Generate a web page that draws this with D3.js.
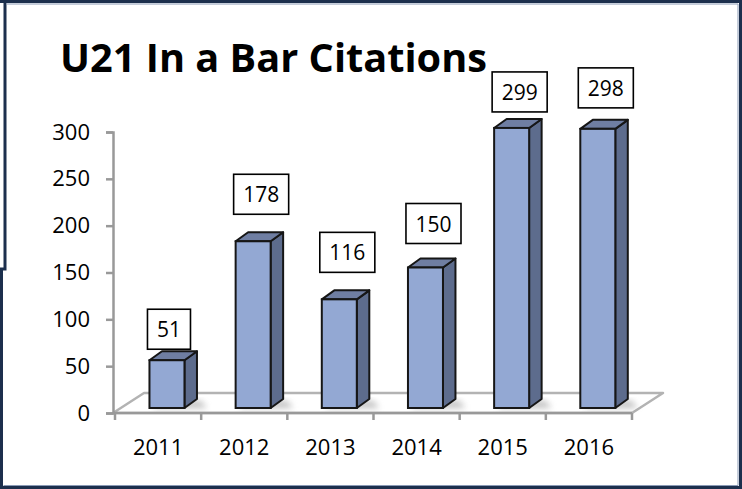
<!DOCTYPE html>
<html>
<head>
<meta charset="utf-8">
<script src="https://cdn.jsdelivr.net/npm/d3@7"></script>
<style>
  html, body { margin: 0; padding: 0; background: #fff; }
  svg { display: block; }
  text { font-family: "Open Sans", "Noto Sans", sans-serif; fill: #000; }
</style>
</head>
<body>
<svg id="chart" width="742" height="489"></svg>
<script>
// ---- data ----
const title = "U21 In a Bar Citations";
const years = ["2011", "2012", "2013", "2014", "2015", "2016"];
const citations = [51, 178, 116, 150, 299, 298];
const yTicks = [0, 50, 100, 150, 200, 250, 300];

// ---- layout constants ----
const labelGap = [11, 27, 27, 24, 16, 21]; // manual label placement above bars
const W = 742, H = 489;
const svg = d3.select("#chart");

const x = d3.scaleBand().domain(years).range([115, 632]).padding(0);
const y = d3.scaleLinear().domain([0, 300]).range([413, 132]);
const depth = { dx: 31, dy: -20 };   // floor depth
const barDepth = { dx: 12.5, dy: -9 };
const barLift = 5;                    // bars sit slightly behind the front floor edge
const faceW = 35;

const defs = svg.append("defs");
const blur = defs.append("filter").attr("id", "shadow").attr("x", "-50%").attr("y", "-50%").attr("width", "200%").attr("height", "200%");
blur.append("feGaussianBlur").attr("stdDeviation", 3);

// ---- frame ----
const frame = svg.append("g");
frame.append("path")
  .attr("d", `M0,1.5 H740.5 V487.5 H1.5 V269 H5 V1.5`)
  .attr("fill", "none").attr("stroke", "#1c2f4d").attr("stroke-width", 3);
frame.append("path")
  .attr("d", `M6,4 H738 V485.5 H3.5`)
  .attr("fill", "none").attr("stroke", "#8a9ab5").attr("stroke-width", 1);

// ---- floor ----
const floorG = svg.append("g");
const x0 = 113, x1 = 632, yb = y(0);
floorG.append("path")
  .attr("d", `M${x0},${yb} L${x0 + depth.dx},${yb + depth.dy} H${x1 + depth.dx} L${x1},${yb} Z`)
  .attr("fill", "#ffffff").attr("stroke", "#b3b3b3").attr("stroke-width", 2.5)
  .attr("stroke-linejoin", "round");

// ---- y axis ----
const yAxis = d3.axisLeft(y).tickValues(yTicks).tickSize(7).tickPadding(16).tickFormat(d3.format("d"));
const yg = svg.append("g").attr("transform", `translate(${x0},0)`).call(yAxis);
yg.select(".domain").attr("stroke", "#999").attr("stroke-width", 2.5);
yg.selectAll(".tick line").attr("stroke", "#999").attr("stroke-width", 2.5);
yg.selectAll(".tick text").attr("font-size", 22).attr("font-family", "Open Sans").attr("fill", "#000");

// ---- x axis ----
const xg = svg.append("g").attr("transform", `translate(0,${yb})`);
xg.append("line").attr("x1", x0).attr("x2", x1).attr("y1", 0).attr("y2", 0)
  .attr("stroke", "#999").attr("stroke-width", 2.5);
const bounds = years.map(d => x(d)).concat([x.range()[1]]);
xg.selectAll("line.xt").data(bounds).join("line").attr("class", "xt")
  .attr("x1", d => d).attr("x2", d => d).attr("y1", 0).attr("y2", 7)
  .attr("stroke", "#999").attr("stroke-width", 2.5);
xg.selectAll("text").data(years).join("text")
  .attr("x", d => x(d) + x.bandwidth() / 2).attr("y", 42)
  .attr("text-anchor", "middle").attr("font-size", 22).text(d => d);

// ---- bars ----
const bars = svg.append("g").selectAll("g").data(years.map((d, i) => ({ year: d, v: citations[i], i })))
  .join("g");

// shadows
bars.append("path")
  .attr("d", d => {
    const l = x(d.year) + x.bandwidth() * 0.4, b = yb - barLift;
    return `M${l + 4},${b} H${l + faceW + barDepth.dx + 10} L${l + faceW + barDepth.dx + 4},${b + barDepth.dy + 2} H${l + 8} Z`;
  })
  .attr("fill", "#8c8c8c").attr("opacity", 0.55).attr("filter", "url(#shadow)");

const face = d => {
  const l = x(d.year) + x.bandwidth() * 0.4;
  return { l, r: l + faceW, t: y(d.v) - barLift, b: yb - barLift };
};
const stroke = "#161616";
bars.append("path") // side
  .attr("d", d => { const f = face(d); return `M${f.r},${f.b} L${f.r + barDepth.dx},${f.b + barDepth.dy} V${f.t + barDepth.dy} L${f.r},${f.t} Z`; })
  .attr("fill", "#5d6c8d").attr("stroke", stroke).attr("stroke-width", 2).attr("stroke-linejoin", "round");
bars.append("path") // top
  .attr("d", d => { const f = face(d); return `M${f.l},${f.t} L${f.l + barDepth.dx},${f.t + barDepth.dy} H${f.r + barDepth.dx} L${f.r},${f.t} Z`; })
  .attr("fill", "#6f7ea2").attr("stroke", stroke).attr("stroke-width", 2).attr("stroke-linejoin", "round");
bars.append("rect") // front
  .attr("x", d => face(d).l).attr("y", d => face(d).t)
  .attr("width", faceW).attr("height", d => face(d).b - face(d).t)
  .attr("fill", "#93a8d3").attr("stroke", stroke).attr("stroke-width", 2);

// ---- data labels ----
const labels = svg.append("g").selectAll("g").data(years.map((d, i) => ({ year: d, v: citations[i], i }))).join("g");
labels.each(function (d) {
  const g = d3.select(this);
  const f = face(d);
  const bh = 40;
  const t = g.append("text").attr("font-size", 21).text(d.v);
  const tw = t.node().getComputedTextLength();
  const bw = tw + 19;
  const left = f.l - 2, bottom = f.t - labelGap[d.i];
  g.insert("rect", "text")
    .attr("x", left).attr("y", bottom - bh).attr("width", bw).attr("height", bh)
    .attr("fill", "#fff").attr("stroke", "#000").attr("stroke-width", 1.6);
  t.attr("x", left + bw / 2).attr("y", bottom - bh / 2).attr("text-anchor", "middle")
    .attr("dominant-baseline", "central");
});

// ---- title ----
svg.append("text").attr("x", 60).attr("y", 72)
  .attr("font-size", 40).attr("font-weight", "bold")
  .attr("textLength", 427).attr("lengthAdjust", "spacingAndGlyphs")
  .text(title);
</script>
</body>
</html>
